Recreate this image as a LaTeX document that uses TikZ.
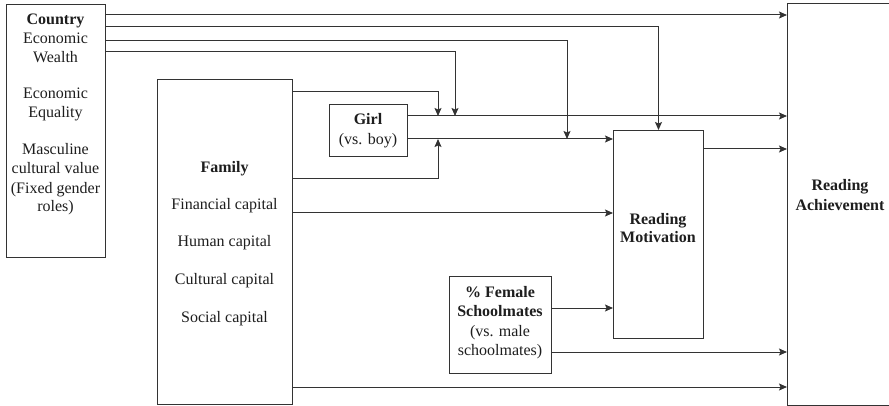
\documentclass[tikz,border=0pt]{standalone}
\usepackage{fontspec}
\setmainfont{Liberation Serif}
\usetikzlibrary{arrows.meta}
\definecolor{ln}{HTML}{333333}
\definecolor{tx}{HTML}{1E1E1E}
\tikzset{
  box/.style={draw=ln, line width=1pt, anchor=north west, inner sep=0pt},
  txt/.style={anchor=base, inner sep=0pt, text=tx, font=\fontsize{16}{19}\selectfont},
  arr/.style={draw=ln, line width=1pt, -{Stealth[length=8pt,width=7pt,inset=1.5pt]}},
  lin/.style={draw=ln, line width=1pt}
}
\begin{document}
\begin{tikzpicture}[x=1pt,y=-1pt]
\clip (0,0) rectangle (889,406);
\fill[white] (0,0) rectangle (889,406);
% boxes
\node[box, minimum width=99pt, minimum height=253pt] (country) at (6,4) {};
\node[box, minimum width=135pt, minimum height=325pt] (family) at (157,79) {};
\node[box, minimum width=78pt, minimum height=52pt] (girl) at (329,104) {};
\node[box, minimum width=90pt, minimum height=208pt] (motiv) at (613,130) {};
\node[box, minimum width=102pt, minimum height=97pt] (female) at (449,276) {};
\node[box, minimum width=140pt, minimum height=402pt] (ach) at (787,3) {};
% texts
\foreach \t/\y [count=\i] in {{\bfseries Country}/25, {Economic}/44, {Wealth}/63, {Economic}/99, {Equality}/118, {Masculine}/155, {cultural value}/174, {(Fixed gender}/194, {roles)}/212}
  \node[txt] (ct\i) at (55.5,\y) {\t};
\foreach \t/\y [count=\i] in {{\bfseries Family}/173, {Financial capital}/210, {Human capital}/247, {Cultural capital}/284, {Social capital}/322}
  \node[txt] (ft\i) at (224.5,\y) {\t};
\node[txt] (gt1) at (368,125) {\bfseries Girl};
\node[txt] (gt2) at (368,145) {(vs. boy)};
\foreach \t/\y [count=\i] in {{\bfseries \% Female}/297, {\bfseries Schoolmates}/316, {(vs. male}/336, {schoolmates)}/355}
  \node[txt] (st\i) at (500,\y) {\t};
\node[txt] (mt1) at (658,225) {\bfseries Reading};
\node[txt] (mt2) at (658,243) {\bfseries Motivation};
\node[txt] (at1) at (840,191) {\bfseries Reading};
\node[txt] (at2) at (840,211) {\bfseries Achievement};
% junction points
\coordinate (j1) at (438,116);
\coordinate (j2) at (438,139);
\coordinate (j3) at (567,139);
\coordinate (j4) at (455,116);
% country connectors
\draw[arr] (country.east |- 0,15) -- (ach.west |- 0,15);
\draw[arr] (country.east |- 0,27) -| (motiv.north);
\draw[arr] (country.east |- 0,41) -| (j3);
\draw[arr] (country.east |- 0,52) -| (j4);
% family connectors
\draw[arr] (family.east |- 0,92) -| (j1);
\draw[arr] (family.east |- 0,179) -| (j2);
\draw[arr] (family.east |- 0,213) -- (motiv.west |- 0,213);
\draw[arr] (family.east |- 0,387) -- (ach.west |- 0,387);
% girl connectors
\draw[arr] (girl.east |- 0,116) -- (ach.west |- 0,116);
\draw[arr] (girl.east |- 0,139) -- (motiv.west |- 0,139);
% motivation
\draw[arr] (motiv.east |- 0,149) -- (ach.west |- 0,149);
% female
\draw[arr] (female.east |- 0,308) -- (motiv.west |- 0,308);
\draw[arr] (female.east |- 0,352) -- (ach.west |- 0,352);
\end{tikzpicture}
\end{document}
